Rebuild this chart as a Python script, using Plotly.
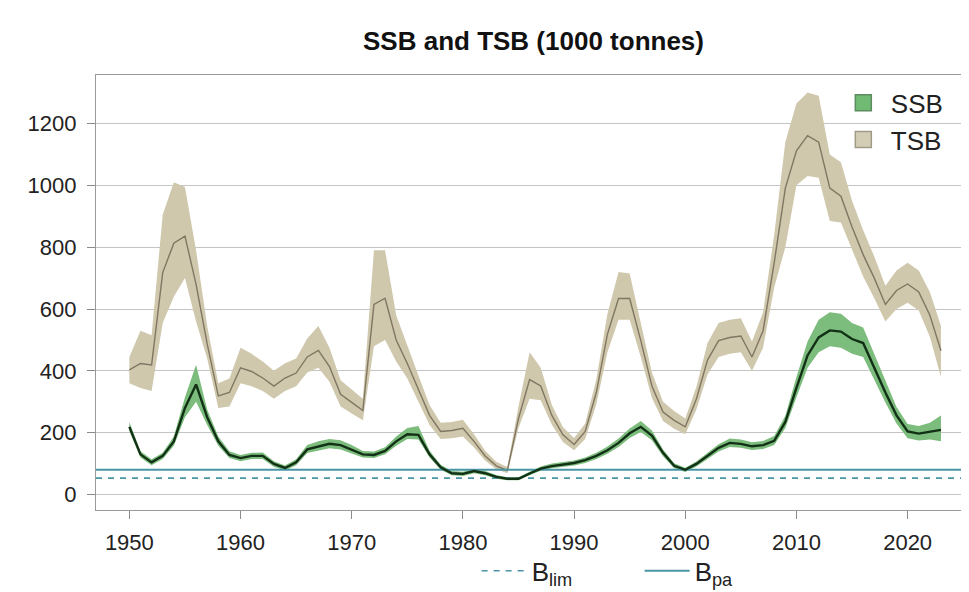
import plotly.graph_objects as go

# ---------------- data (1000 tonnes) ----------------
years = list(range(1950, 2024))

ssb = [219, 130, 104, 125, 172, 280, 356, 250, 172, 128,
       118, 125, 125, 99, 86, 104, 146, 156, 164, 160,
       146, 130, 128, 141, 172, 195, 193, 130, 88, 69,
       67, 76, 69, 57, 51, 51, 68, 84, 92, 97,
       102, 111, 125, 143, 167, 198, 219, 191, 135, 93,
       80, 99, 125, 151, 167, 164, 156, 160, 174, 235,
       345, 450, 508, 531, 527, 503, 490, 410, 330, 256,
       204, 197, 202, 209]
ssb_low = [205, 120, 95, 115, 158, 250, 300, 225, 158, 118,
           108, 115, 115, 90, 78, 95, 134, 142, 150, 146,
           134, 120, 118, 130, 158, 180, 178, 120, 80, 62,
           60, 69, 62, 51, 46, 46, 62, 77, 85, 89,
           94, 102, 115, 132, 154, 183, 202, 176, 124, 85,
           73, 91, 115, 139, 154, 151, 144, 147, 160, 215,
           315, 410, 460, 480, 475, 455, 445, 370, 298, 230,
           182, 175, 178, 172]
ssb_high = [235, 140, 114, 135, 188, 315, 420, 275, 188, 140,
            128, 135, 136, 108, 94, 114, 160, 172, 180, 176,
            160, 141, 139, 153, 188, 215, 222, 142, 96, 76,
            74, 83, 76, 63, 56, 56, 74, 91, 100, 105,
            110, 120, 135, 155, 181, 214, 238, 207, 146, 101,
            87, 107, 135, 163, 181, 178, 169, 173, 189, 255,
            380, 495, 565, 590, 585, 555, 540, 455, 365, 283,
            228, 222, 232, 256]

tsb = [403, 424, 419, 718, 813, 836, 680, 487, 319, 330,
       410, 398, 377, 351, 377, 393, 445, 466, 414, 324,
       298, 272, 615, 635, 500, 424, 340, 256, 204, 207,
       214, 172, 125, 93, 78, 246, 372, 351, 256, 193,
       162, 204, 330, 519, 634, 634, 498, 351, 267, 240,
       219, 309, 435, 498, 508, 513, 445, 530, 750, 991,
       1112, 1161, 1140, 991, 965, 865, 776, 700, 615, 660,
       681, 655, 580, 465]
tsb_low = [360, 345, 335, 555, 640, 700, 560, 440, 280, 285,
           360, 350, 335, 310, 335, 350, 395, 410, 365, 285,
           262, 240, 480, 500, 430, 375, 300, 225, 180, 182,
           188, 152, 110, 82, 69, 215, 310, 305, 226, 170,
           143, 180, 292, 460, 565, 565, 445, 312, 238, 213,
           195, 275, 388, 445, 455, 460, 400, 475, 670, 800,
           1000, 1030, 1025, 885, 880, 790, 705, 635, 560, 600,
           620, 595, 510, 380]
tsb_high = [445, 530, 515, 905, 1010, 995, 790, 545, 360, 375,
            475, 455, 430, 400, 425, 440, 505, 545, 475, 370,
            340, 310, 790, 790, 580, 480, 385, 290, 232, 235,
            242, 195, 142, 106, 89, 285, 460, 410, 290, 218,
            183, 230, 372, 585, 720, 715, 560, 395, 300, 270,
            246, 348, 490, 555, 565, 570, 495, 590, 840, 1140,
            1265, 1300, 1290, 1100, 1075, 950, 855, 770, 675, 725,
            750, 725, 655, 545]

b_lim = 53
b_pa = 80

x_ticks = [1950, 1960, 1970, 1980, 1990, 2000, 2010, 2020]
y_ticks = [0, 200, 400, 600, 800, 1000, 1200]
x_range = [1947.0, 2025.7]
y_range = [-50, 1357]

# ---------------- styles ----------------
FONT = "Liberation Sans, Arial, Helvetica, sans-serif"
TSB_FILL = "rgb(207,200,173)"
TSB_LINE = "rgb(128,118,98)"
SSB_FILL = "rgb(124,188,124)"
SSB_LINE = "rgb(18,48,22)"
REF = "rgb(72,150,165)"

fig = go.Figure()

# TSB band + line
fig.add_trace(go.Scatter(x=years, y=tsb_high, mode="lines", line=dict(width=0),
                         showlegend=False, hoverinfo="skip"))
fig.add_trace(go.Scatter(x=years, y=tsb_low, mode="lines", line=dict(width=0),
                         fill="tonexty", fillcolor=TSB_FILL, showlegend=False, hoverinfo="skip"))
fig.add_trace(go.Scatter(x=years, y=tsb, mode="lines", line=dict(color=TSB_LINE, width=1.4),
                         showlegend=False))

# SSB band
fig.add_trace(go.Scatter(x=years, y=ssb_high, mode="lines", line=dict(width=0),
                         showlegend=False, hoverinfo="skip"))
fig.add_trace(go.Scatter(x=years, y=ssb_low, mode="lines", line=dict(width=0),
                         fill="tonexty", fillcolor=SSB_FILL, showlegend=False, hoverinfo="skip"))

# reference points
fig.add_trace(go.Scatter(x=x_range, y=[b_lim, b_lim], mode="lines",
                         line=dict(color=REF, width=1.6, dash="6px,6px"),
                         name="B<sub>lim</sub>", legend="legend2"))
fig.add_trace(go.Scatter(x=x_range, y=[b_pa, b_pa], mode="lines",
                         line=dict(color=REF, width=2),
                         name="B<sub>pa</sub>", legend="legend2"))

# SSB line
fig.add_trace(go.Scatter(x=years, y=ssb, mode="lines", line=dict(color=SSB_LINE, width=2.4),
                         showlegend=False))

# legend entries for the bands
fig.add_trace(go.Scatter(x=[None], y=[None], mode="markers", name="SSB",
                         marker=dict(symbol="square", size=18, color="rgb(112,186,116)",
                                     line=dict(color="rgb(92,140,96)", width=1.5)),
                         legend="legend"))
fig.add_trace(go.Scatter(x=[None], y=[None], mode="markers", name="TSB",
                         marker=dict(symbol="square", size=18, color="rgb(212,205,182)",
                                     line=dict(color="rgb(160,155,135)", width=1.5)),
                         legend="legend"))

fig.update_layout(
    width=969, height=592,
    margin=dict(l=88, r=6, t=67, b=78),
    paper_bgcolor="white", plot_bgcolor="white",
    font=dict(family=FONT, size=22, color="#222222"),
    title=dict(text="<b>SSB and TSB (1000 tonnes)</b>", x=0.5, xref="paper", xanchor="center",
               y=1 - 33 / 592, yref="container", yanchor="middle",
               font=dict(family=FONT, size=26, color="#111111")),
    legend=dict(x=0.8455, y=0.99, xanchor="left", yanchor="top", bgcolor="rgba(0,0,0,0)",
                font=dict(size=26, color="#222222"), tracegroupgap=0, itemsizing="trace",
                traceorder="normal", itemwidth=45),
    legend2=dict(orientation="h", x=0.435, y=-0.14, xanchor="left", yanchor="middle",
                 bgcolor="rgba(0,0,0,0)", font=dict(size=26, color="#222222"),
                 entrywidth=103, entrywidthmode="pixels", traceorder="normal", itemwidth=45),
    xaxis=dict(range=x_range, tickvals=x_ticks, ticks="outside", ticklen=8, tickwidth=1,
               tickcolor="#8a8a8a", showgrid=False, zeroline=False, showline=True,
               linecolor="#9a9a9a", linewidth=1.2, mirror=True,
               tickfont=dict(size=22, color="#222222"), ticklabelstandoff=4),
    yaxis=dict(range=y_range, tickvals=y_ticks, ticks="outside", ticklen=8, tickwidth=1,
               tickcolor="#8a8a8a", showgrid=True, gridcolor="#c4c4c4", gridwidth=1.2,
               zeroline=False, showline=True, linecolor="#9a9a9a", linewidth=1.2, mirror=True,
               tickfont=dict(size=22, color="#222222"), ticklabelstandoff=6),
)

fig.write_html("out.html")
